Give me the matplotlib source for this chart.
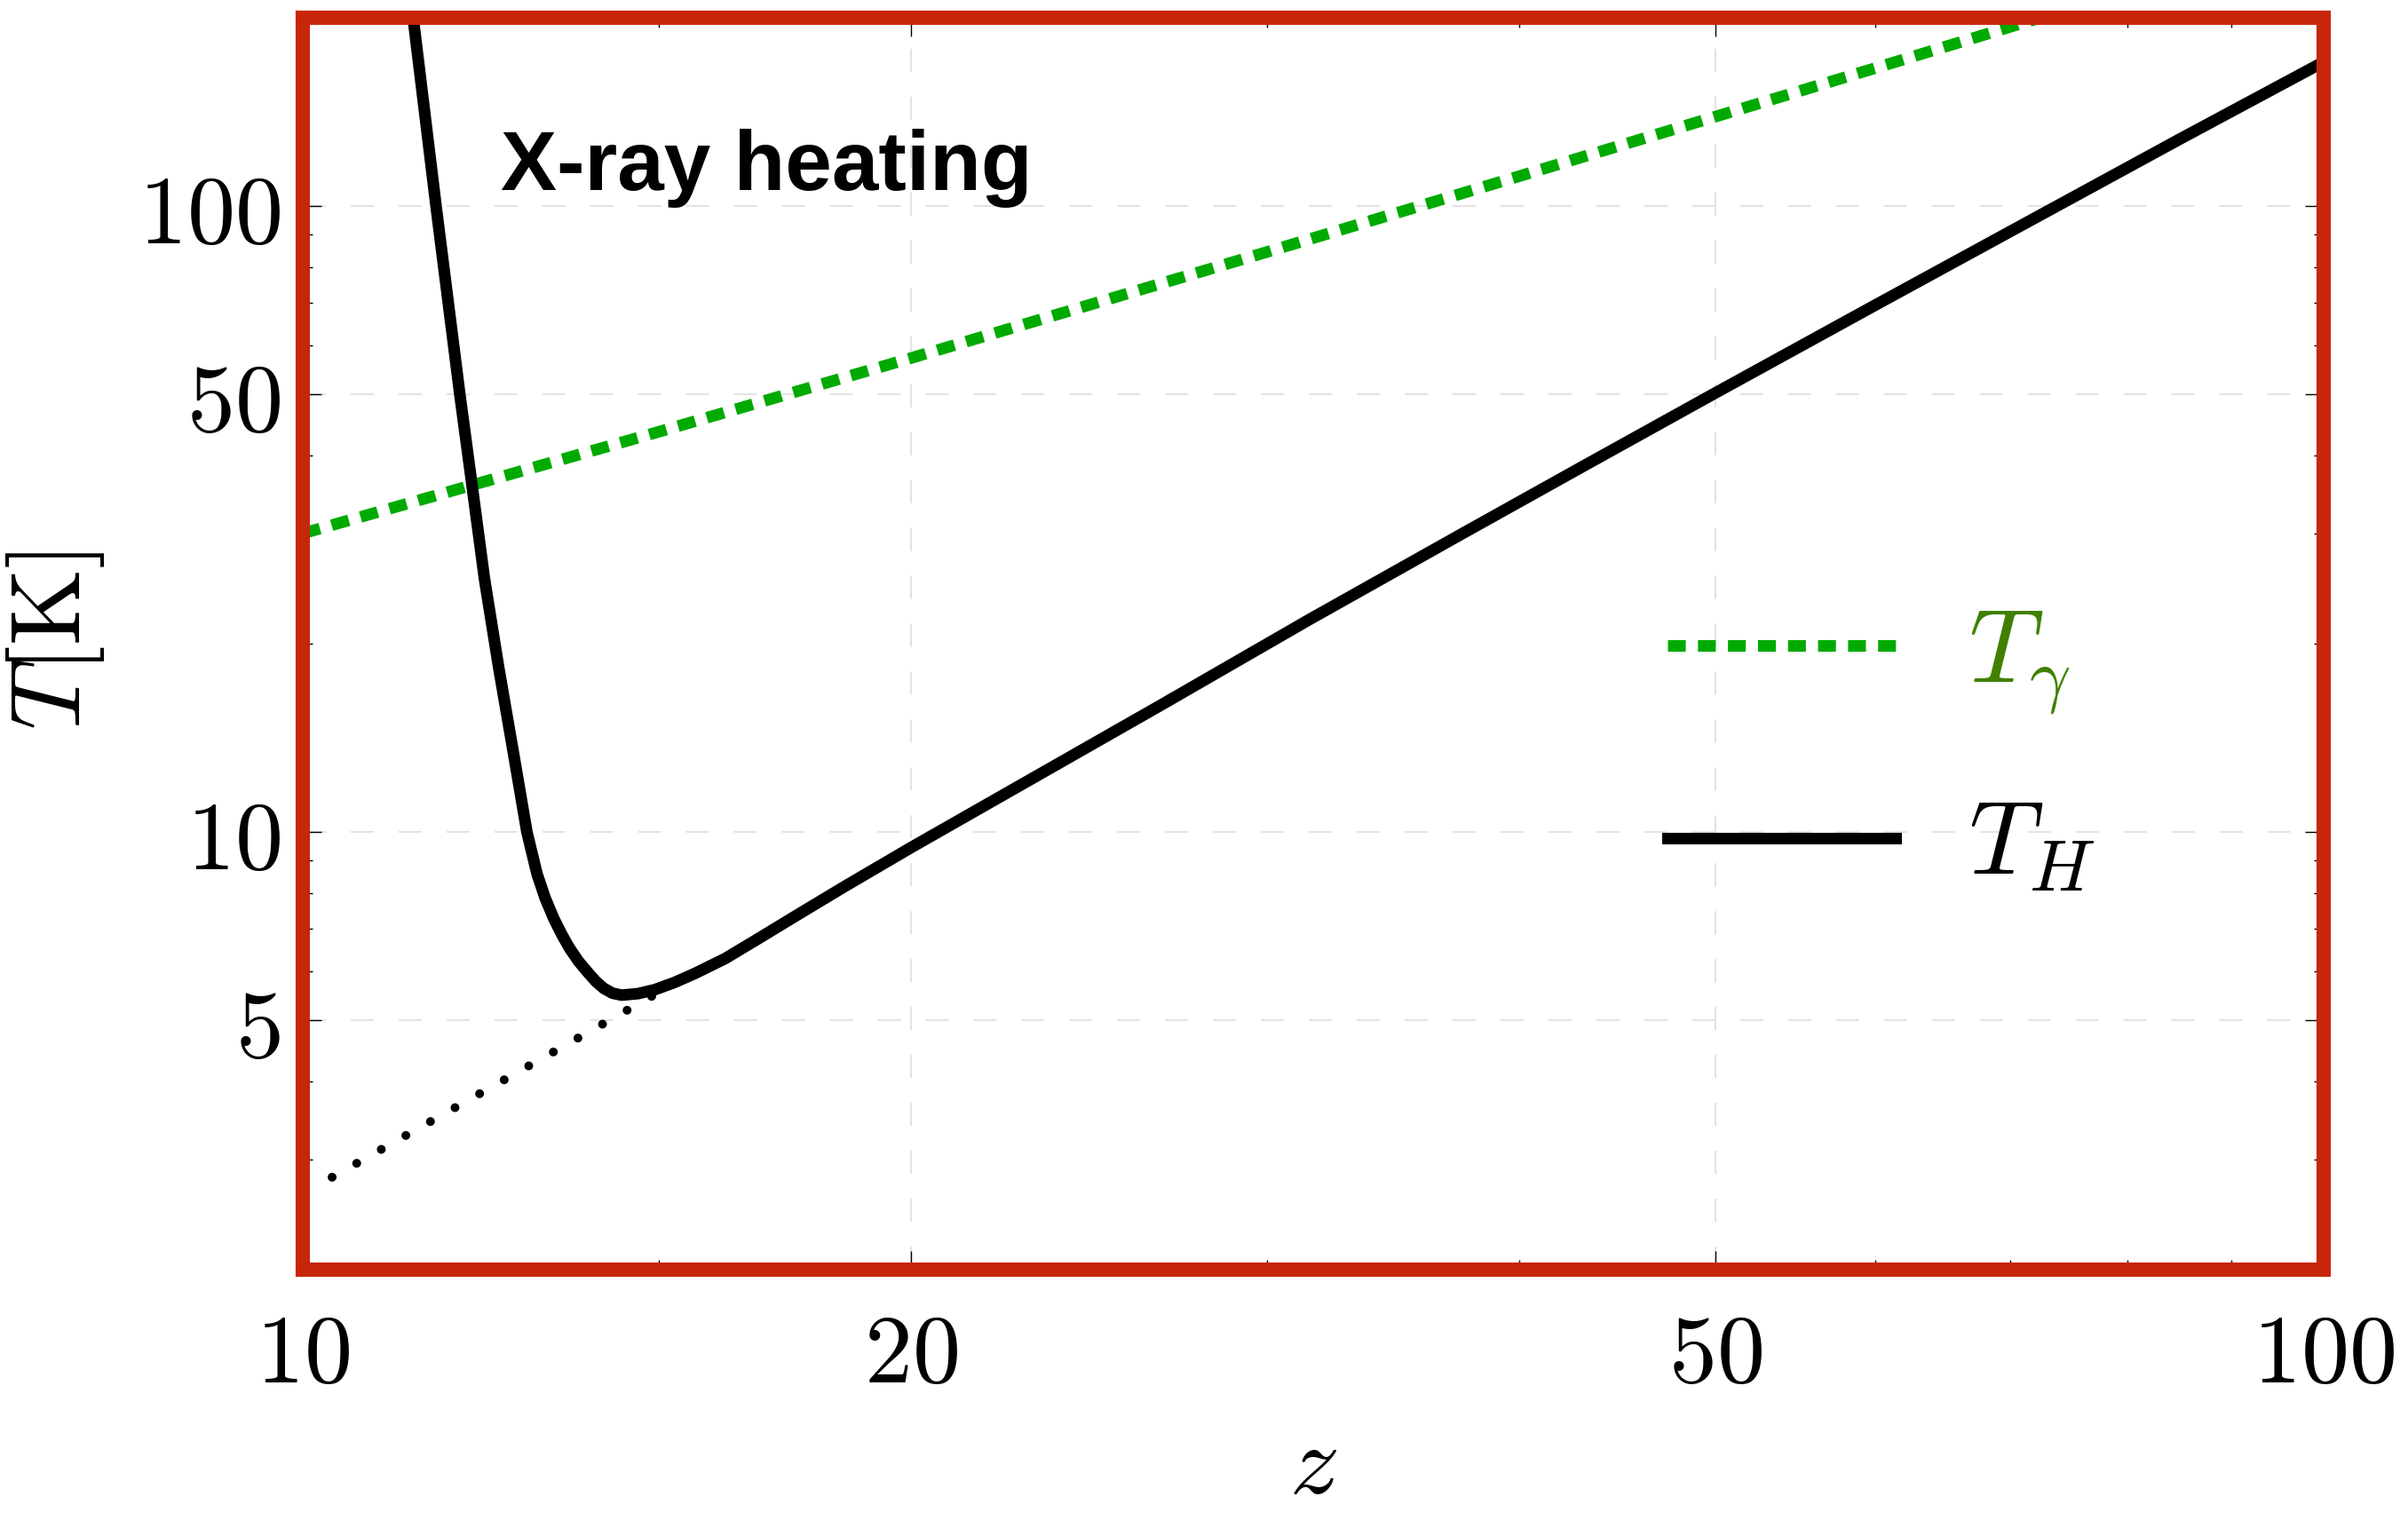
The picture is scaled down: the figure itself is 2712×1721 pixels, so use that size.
import numpy as np
import matplotlib
matplotlib.use("Agg")
import matplotlib.pyplot as plt
from matplotlib.ticker import FixedLocator, NullFormatter

plt.rcParams['mathtext.fontset'] = 'cm'
plt.rcParams['font.family'] = ['DejaVu Sans']

# photon temperature T_gamma
z_gamma = [10, 15, 20, 30, 40, 50, 60, 70, 75]
T_gamma = [30.0, 43.6, 57.2, 84.5, 111.7, 139.0, 166.2, 193.5, 207.1]

# gas temperature with X-ray heating
z_gas = [11.2, 11.34, 11.64, 11.96, 12.13, 12.30, 12.50, 12.72, 12.91,
         12.98, 13.06, 13.18, 13.31, 13.43, 13.55, 13.69, 13.83, 13.96,
         14.09, 14.23, 14.38, 14.65, 14.93, 15.27, 15.64, 16.18, 16.73,
         17.6, 18.52, 20.0, 26.58, 31.5, 37.6, 43.0, 50.0, 60.0, 70.4,
         85.0, 100.0]
T_gas = [270, 200, 100, 50, 35.6, 25.4, 18.35, 13.24, 10.0,
         9.3, 8.57, 7.85, 7.28, 6.87, 6.53, 6.22, 5.98, 5.78,
         5.63, 5.53, 5.49, 5.52, 5.60, 5.75, 5.95, 6.28, 6.70,
         7.40, 8.17, 9.45, 15.95, 21.88, 30.16, 38.4, 50.3, 69.5, 92.1,
         128.3, 170.0]

# adiabatic continuation without heating (dotted)
z_adiab = [10.34, 15.3]
T_adiab = [2.81, 5.75]

x_major = [10, 20, 50, 100]
x_minor = [15, 30, 40, 60, 70, 80, 90]
y_major = [5, 10, 50, 100]
y_minor = [2, 3, 4, 6, 7, 8, 9, 20, 30, 40, 60, 70, 80, 90]

red = '#c8260a'
green = '#00aa00'

fig = plt.figure(figsize=(13.56, 8.605), dpi=200)
ax = fig.add_axes([341/2712, 1-1430/1721, 2276/2712, 1410/1721])
ax.set_xscale('log')
ax.set_yscale('log')

ax.plot(z_adiab, T_adiab, color='black', lw=3.6, linestyle=(0, (0.001, 3.18)),
        dash_capstyle='round', zorder=2)
ax.plot(z_gamma, T_gamma, color=green, lw=4.7, linestyle=(0, (1.54, 1.05)),
        label=r'$T_\gamma$', zorder=3)
ax.plot(z_gas, T_gas, color='black', lw=4.7, label=r'$T_H$', zorder=3,
        solid_joinstyle='round')

ax.set_xlim(10, 100)
ax.set_ylim(2, 200)

ax.xaxis.set_major_locator(FixedLocator(x_major))
ax.xaxis.set_minor_locator(FixedLocator(x_minor))
ax.yaxis.set_major_locator(FixedLocator(y_major))
ax.yaxis.set_minor_locator(FixedLocator(y_minor))
ax.set_xticklabels([r'$%d$' % v for v in x_major])
ax.set_yticklabels([r'$%d$' % v for v in y_major])
ax.xaxis.set_minor_formatter(NullFormatter())
ax.yaxis.set_minor_formatter(NullFormatter())

ax.tick_params(which='both', direction='in', top=True, right=True,
               width=0.5, color='black', labelsize=39)
ax.tick_params(which='major', length=7.6)
ax.tick_params(which='minor', length=4)
ax.tick_params(axis='x', which='major', pad=16)
ax.tick_params(axis='y', which='major', pad=9)

ax.grid(True, which='major', color='#e3e3e3', lw=0.75,
        linestyle=(0, (12.5, 13.4)))
ax.set_axisbelow(True)

for sp in ax.spines.values():
    sp.set_color(red)
    sp.set_linewidth(5.8)
    sp.set_capstyle('projecting')
    sp.set_zorder(5)

ax.set_xlabel(r'$z$', fontsize=40)
ax.xaxis.label.set_va('baseline')
ax.xaxis.set_label_coords(0.5, -0.179)
ax.set_ylabel(r'$T[\mathrm{K}]$', fontsize=40)
ax.yaxis.label.set_va('center')
ax.yaxis.set_label_coords(-0.1224, 0.503)

ax.text(0.098, 0.8624, 'X-ray heating', transform=ax.transAxes,
        fontsize=34, fontweight='bold', family=['Liberation Sans', 'DejaVu Sans'],
        va='baseline', ha='left')

leg = ax.legend(loc='center left', bbox_to_anchor=(0.629, 0.416), frameon=False,
                fontsize=42, handlelength=2.21, handletextpad=0.7,
                labelspacing=0.75)
leg.get_texts()[0].set_color('#408000')

fig.savefig('out.png', dpi=200)
